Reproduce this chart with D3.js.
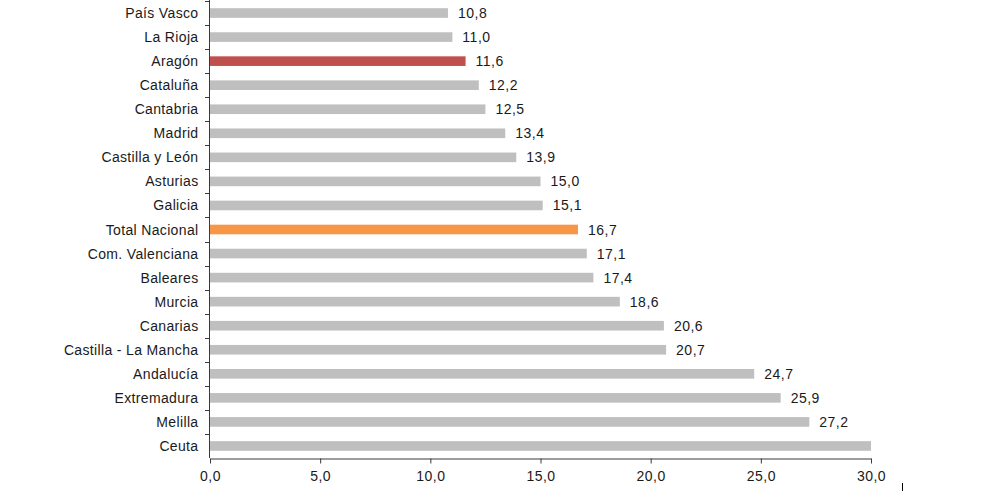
<!DOCTYPE html>
<html><head><meta charset="utf-8">
<script src="https://cdn.jsdelivr.net/npm/d3@7"></script>
<style>
html,body{margin:0;padding:0;background:#fff;}
svg{display:block;}
text{font-family:"Liberation Sans",Arial,sans-serif;}
</style></head>
<body>
<svg id="chart" width="990" height="491"></svg>
<script>
const categories = ["País Vasco","La Rioja","Aragón","Cataluña","Cantabria","Madrid","Castilla y León","Asturias","Galicia","Total Nacional","Com. Valenciana","Baleares","Murcia","Canarias","Castilla - La Mancha","Andalucía","Extremadura","Melilla","Ceuta"];
const values = [10.8,11.0,11.6,12.2,12.5,13.4,13.9,15.0,15.1,16.7,17.1,17.4,18.6,20.6,20.7,24.7,25.9,27.2,30.0];
const highlight = {"Aragón":"#c0504d","Total Nacional":"#f79646"};
const xTicks = [0,5,10,15,20,25,30];

const svg = d3.select("#chart");
const x = d3.scaleLinear().domain([0,30]).range([210,871]);
const y = d3.scaleBand().domain(categories).range([1,458]).paddingInner(0.6).paddingOuter(0.3);
const fmt = v => d3.format(".1f")(v).replace(".", ",");

// bars
svg.append("g").selectAll("rect").data(categories).join("rect")
  .attr("x", x(0))
  .attr("y", d => y(d))
  .attr("width", (d,i) => x(Math.min(values[i],30)) - x(0))
  .attr("height", y.bandwidth())
  .attr("fill", d => highlight[d] || "#bfbfbf");

// value labels
svg.append("g").selectAll("text").data(categories).join("text")
  .filter((d,i) => values[i] < 30)
  .attr("x", (d) => x(values[categories.indexOf(d)]) + 10)
  .attr("y", d => y(d) + y.bandwidth()/2)
  .attr("dy", "0.36em")
  .attr("font-size", 14)
  .attr("letter-spacing", 0.5)
  .attr("fill", "#1a1a1a")
  .text(d => fmt(values[categories.indexOf(d)]));

// y axis
const yAxisG = svg.append("g");
yAxisG.append("line").attr("x1",209.5).attr("x2",209.5).attr("y1",0).attr("y2",458).attr("stroke","#3a3a3a").attr("stroke-width",1);
const boundaries = d3.range(categories.length+1).map(i => 458 - i*((458-1)/categories.length));
yAxisG.selectAll("line.tk").data(boundaries.slice(1)).join("line").attr("class","tk")
  .attr("x1",205).attr("x2",210).attr("y1",d=>Math.round(d)+0.5).attr("y2",d=>Math.round(d)+0.5)
  .attr("stroke","#3a3a3a");
yAxisG.selectAll("text").data(categories).join("text")
  .attr("x",198.5)
  .attr("y", d => y(d) + y.bandwidth()/2)
  .attr("dy","0.36em")
  .attr("text-anchor","end")
  .attr("font-size",14)
  .attr("letter-spacing",0.35)
  .attr("fill","#1a1a1a")
  .text(d=>d);

// x axis
const xAxis = d3.axisBottom(x).tickValues(xTicks).tickFormat(fmt).tickSize(5).tickSizeOuter(0);
const xg = svg.append("g").attr("transform","translate(0,458.5)").call(xAxis);
xg.select(".domain").attr("stroke","#3a3a3a");
xg.selectAll(".tick line").attr("stroke","#3a3a3a");
xg.selectAll(".tick text").attr("font-size",14).attr("letter-spacing",0.5).attr("fill","#1a1a1a").attr("dy","1.05em")
  .style("font-family","'Liberation Sans',Arial,sans-serif");

// stray mark
svg.append("line").attr("x1",902.5).attr("x2",902.5).attr("y1",483).attr("y2",491).attr("stroke","#000");
</script>
</body></html>
